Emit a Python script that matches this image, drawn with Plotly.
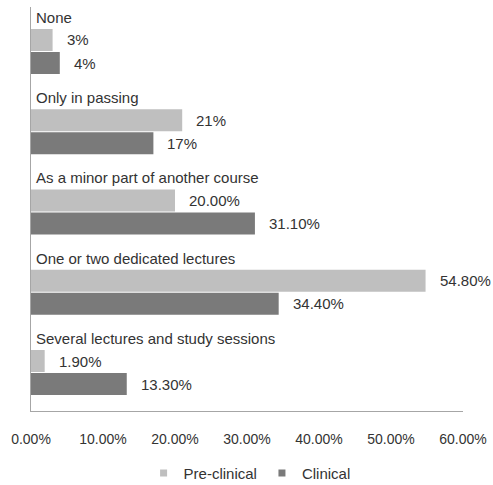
import plotly.graph_objects as go

# Survey responses: how the topic was covered in the curriculum
categories = [
    "None",
    "Only in passing",
    "As a minor part of another course",
    "One or two dedicated lectures",
    "Several lectures and study sessions",
]
pre_clinical = [3, 21, 20.0, 54.8, 1.9]
clinical = [4, 17, 31.1, 34.4, 13.3]
pre_labels = ["3%", "21%", "20.00%", "54.80%", "1.90%"]
clin_labels = ["4%", "17%", "31.10%", "34.40%", "13.30%"]
x_ticks = [0, 10, 20, 30, 40, 50, 60]
x_tick_text = ["0.00%", "10.00%", "20.00%", "30.00%", "40.00%", "50.00%", "60.00%"]

PRE_COLOR = "#bfbfbf"
CLIN_COLOR = "#7a7a7a"
TEXT_COLOR = "#333333"
FONT = "Liberation Sans"

# each category occupies one unit on the y axis: title, then the two bars
LABEL_OFF, PRE_OFF, CLIN_OFF, BAR_W = 0.13, 0.411, 0.698, 0.274
idx = list(range(len(categories)))

fig = go.Figure()
fig.add_trace(go.Bar(
    x=pre_clinical, y=[i + PRE_OFF for i in idx], orientation="h",
    width=BAR_W, marker=dict(color=PRE_COLOR, line=dict(width=0)),
    name="Pre-clinical", showlegend=False, hoverinfo="x",
))
fig.add_trace(go.Bar(
    x=clinical, y=[i + CLIN_OFF for i in idx], orientation="h",
    width=BAR_W, marker=dict(color=CLIN_COLOR, line=dict(width=0)),
    name="Clinical", showlegend=False, hoverinfo="x",
))

# small square legend keys
for name, color in [("Pre-clinical", PRE_COLOR), ("Clinical", CLIN_COLOR)]:
    fig.add_trace(go.Scatter(
        x=[None], y=[None], mode="markers", name=name,
        marker=dict(symbol="square", size=7, color=color),
    ))

annotations = []
for i, cat in enumerate(categories):
    annotations.append(dict(
        x=0, y=i + LABEL_OFF, xref="x", yref="y", text=cat, showarrow=False,
        xanchor="left", yanchor="middle", xshift=3,
        font=dict(size=15, color=TEXT_COLOR, family=FONT),
    ))
    annotations.append(dict(
        x=pre_clinical[i], y=i + PRE_OFF, xref="x", yref="y", text=pre_labels[i],
        showarrow=False, xanchor="left", yanchor="middle", xshift=12,
        font=dict(size=15, color=TEXT_COLOR, family=FONT),
    ))
    annotations.append(dict(
        x=clinical[i], y=i + CLIN_OFF, xref="x", yref="y", text=clin_labels[i],
        showarrow=False, xanchor="left", yanchor="middle", xshift=12,
        font=dict(size=15, color=TEXT_COLOR, family=FONT),
    ))

fig.update_layout(
    width=493, height=485,
    margin=dict(l=31, r=30, t=7, b=74, autoexpand=False),
    paper_bgcolor="white", plot_bgcolor="white",
    barmode="overlay",
    font=dict(family=FONT, color=TEXT_COLOR, size=13),
    annotations=annotations,
    legend=dict(
        orientation="h", x=0.506, xanchor="center", y=-0.113, yanchor="top",
        font=dict(size=15, color=TEXT_COLOR, family=FONT),
        itemwidth=30, tracegroupgap=0,
    ),
    xaxis=dict(
        range=[0, 60], tickvals=x_ticks, ticktext=x_tick_text,
        showgrid=False, zeroline=False, showline=True, linecolor="#a6a6a6",
        linewidth=1, ticks="", ticklabelstandoff=15, fixedrange=True,
        tickfont=dict(size=14, color=TEXT_COLOR, family=FONT),
    ),
    yaxis=dict(
        range=[5.034, 0], showticklabels=False, showgrid=False, zeroline=False,
        showline=True, linecolor="#a6a6a6", linewidth=1, ticks="", fixedrange=True,
    ),
)

fig.write_html("out.html")
